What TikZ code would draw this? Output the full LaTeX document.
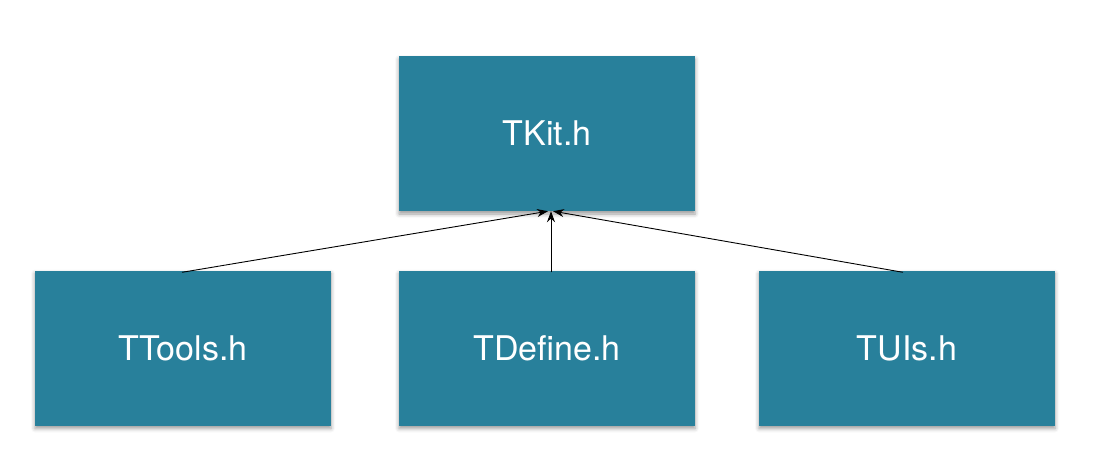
\documentclass[tikz,border=0pt]{standalone}
\usepackage{fontspec}
\setmainfont{TeX Gyre Heros}
\usetikzlibrary{shadows.blur,arrows.meta}
\definecolor{boxteal}{RGB}{40,128,155}
\tikzset{
  hbox/.style={fill=boxteal, draw=none, minimum width=296pt, minimum height=155pt,
    inner sep=0pt, text=white, font=\fontsize{34}{40}\selectfont,
    blur shadow={shadow xshift=0pt, shadow yshift=-3pt, shadow blur radius=4pt, shadow opacity=40}},
  conn/.style={line width=0.9pt, draw=black, -{Stealth[length=11pt,width=8pt]}}
}
\begin{document}
\begin{tikzpicture}[x=1pt,y=-1pt]
\useasboundingbox (0,0) rectangle (1096,466);
\node[hbox] (kit) at (547,133.5) {TKit.h};
\node[hbox] (tools) at (183,348) {TTools.h};
\node[hbox] (define) at (547,348) {TDefine.h};
\node[hbox] (uis) at (907,348) {TUIs.h};
\draw[conn] ([xshift=-1pt,yshift=-2pt]tools.north) -- ([xshift=1pt]kit.south);
\draw[conn] ([xshift=4pt,yshift=-2pt]define.north) -- ([xshift=4pt]kit.south);
\draw[conn] ([xshift=-4pt,yshift=-2pt]uis.north) -- ([xshift=6pt]kit.south);
\end{tikzpicture}
\end{document}
